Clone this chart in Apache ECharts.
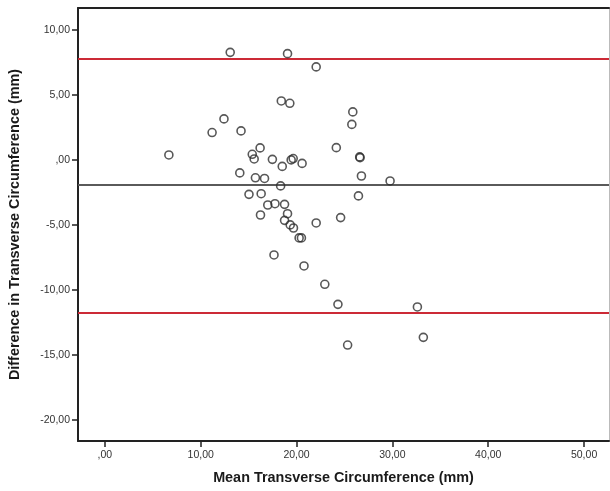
<!DOCTYPE html>
<html>
<head>
<meta charset="utf-8">
<script src="https://cdn.jsdelivr.net/npm/echarts@6/dist/echarts.min.js"></script>
<style>
html,body{margin:0;padding:0;background:#fff;}
#chart{width:610px;height:491px;}
</style>
</head>
<body>
<div id="chart"></div>
<script>
// Mean of the two measurements (x) and their difference (y)
var meanValues = [6.68, 11.19, 12.43, 13.08, 14.21, 14.08, 15.04, 15.38, 15.58, 15.71,
  16.20, 16.24, 16.31, 16.66, 17.00, 17.48, 17.65, 17.75, 18.34, 18.41,
  18.51, 18.75, 18.75, 19.06, 19.06, 19.30, 19.34, 19.44, 19.65, 19.68,
  20.27, 20.51, 20.58, 20.78, 22.05, 22.05, 22.95, 24.15, 24.32, 24.60,
  25.33, 25.77, 25.87, 26.46, 26.59, 26.63, 26.77, 29.76, 32.61, 33.23];
var diffValues = [0.40, 2.12, 3.17, 8.29, 2.25, -0.98, -2.63, 0.45, 0.09, -1.36,
  0.94, -4.22, -2.58, -1.41, -3.45, 0.06, -7.29, -3.35, -1.98, 4.55,
  -0.48, -3.40, -4.63, 8.19, -4.12, 4.37, -4.98, 0.02, 0.12, -5.22,
  -5.98, -5.98, -0.25, -8.14, 7.17, -4.83, -9.55, 0.96, -11.09, -4.42,
  -14.22, 2.75, 3.71, -2.75, 0.25, 0.19, -1.22, -1.60, -11.29, -13.63];
// Reference lines: upper limit, mean difference, lower limit
var upperLimit = 7.83;
var meanDiff = -1.91;
var lowerLimit = -11.75;
// Tick values
var xTicks = [0, 10, 20, 30, 40, 50];
var yTicks = [-20, -15, -10, -5, 0, 5, 10];

function fmt(v) {
  if (v === 0) return ',00';
  return v.toFixed(2).replace('.', ',');
}

var points = meanValues.map(function (m, i) { return [m, diffValues[i]]; });

var chart = echarts.init(document.getElementById('chart'), null, {renderer: 'canvas'});
var fontFam = '"Liberation Sans", Arial, sans-serif';
chart.setOption({
  animation: false,
  backgroundColor: '#ffffff',
  grid: {left: 73, right: 1, top: 8, bottom: 50, containLabel: false},
  xAxis: [{
    type: 'value',
    min: -2.8, max: 52.6,
    name: 'Mean Transverse Circumference (mm)',
    nameLocation: 'middle',
    nameGap: 30,
    nameTextStyle: {fontFamily: fontFam, fontWeight: 'bold', fontSize: 14.4, color: '#1a1a1a'},
    axisLine: {show: true, onZero: false, lineStyle: {color: '#222', width: 2}},
    axisTick: {show: true, length: 6, customValues: xTicks, lineStyle: {color: '#222', width: 1.5}},
    axisLabel: {customValues: xTicks, formatter: fmt, fontFamily: fontFam, fontSize: 10.5, color: '#333', margin: 9},
    splitLine: {show: false}
  }, {
    type: 'value', position: 'top',
    min: -2.8, max: 52.6,
    axisLine: {show: true, onZero: false, lineStyle: {color: '#222', width: 2}},
    axisTick: {show: false}, axisLabel: {show: false}, splitLine: {show: false}
  }],
  yAxis: [{
    type: 'value',
    min: -21.6, max: 11.7,
    name: 'Difference in Transverse Circumference (mm)',
    nameLocation: 'middle',
    nameGap: 56,
    nameTextStyle: {fontFamily: fontFam, fontWeight: 'bold', fontSize: 14.4, color: '#1a1a1a'},
    axisLine: {show: true, onZero: false, lineStyle: {color: '#222', width: 2}},
    axisTick: {show: true, length: 6, customValues: yTicks, lineStyle: {color: '#222', width: 1.5}},
    axisLabel: {customValues: yTicks, formatter: fmt, fontFamily: fontFam, fontSize: 10.5, color: '#333', margin: 8},
    splitLine: {show: false}
  }, {
    type: 'value', position: 'right',
    min: -21.6, max: 11.7,
    axisLine: {show: true, onZero: false, lineStyle: {color: '#bbb', width: 1}},
    axisTick: {show: false}, axisLabel: {show: false}, splitLine: {show: false}
  }],
  series: [{
    type: 'scatter',
    data: points,
    symbol: 'circle',
    symbolSize: 8,
    itemStyle: {color: 'rgba(255,255,255,0)', borderColor: '#2e2e2e', borderWidth: 1.6},
    z: 5,
    markLine: {
      silent: true,
      symbol: 'none',
      label: {show: false},
      data: [
        {yAxis: upperLimit, lineStyle: {color: '#cc2a36', width: 2, type: 'solid'}},
        {yAxis: meanDiff, lineStyle: {color: '#5a5a5a', width: 2, type: 'solid'}},
        {yAxis: lowerLimit, lineStyle: {color: '#cc2a36', width: 2, type: 'solid'}}
      ]
    }
  }]
});
</script>
</body>
</html>
